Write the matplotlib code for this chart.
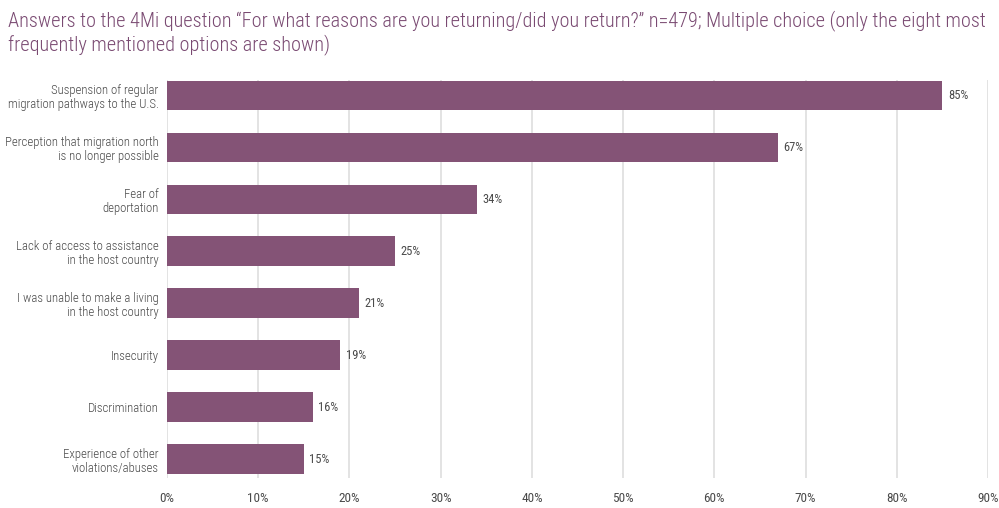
import matplotlib
matplotlib.use("Agg")
import matplotlib.pyplot as plt
from matplotlib.ticker import FuncFormatter

categories = [
    "Suspension of regular\nmigration pathways to the U.S.",
    "Perception that migration north\nis no longer possible",
    "Fear of\ndeportation",
    "Lack of access to assistance\nin the host country",
    "I was unable to make a living\nin the host country",
    "Insecurity",
    "Discrimination",
    "Experience of other\nviolations/abuses",
]
values = [85, 67, 34, 25, 21, 19, 16, 15]
xticks = [0, 10, 20, 30, 40, 50, 60, 70, 80, 90]
title = ("Answers to the 4Mi question \u201cFor what reasons are you returning/did you return?\u201d n=479; Multiple choice (only the eight most\n"
         "frequently mentioned options are shown)")

fam = ['Roboto Condensed', 'Archivo Narrow', 'DejaVu Sans']
plt.rcParams['font.family'] = fam

bar_color = "#845376"
text_color = "#4a4a4a"

fig = plt.figure(figsize=(9.99, 5.08), dpi=100)
ax = fig.add_axes([167/999, 1-478/508, (988-167)/999, (478-80)/508])

ypos = list(range(len(categories)))
ax.barh(ypos, values, height=0.56, color=bar_color, zorder=3)
for y, v in zip(ypos, values):
    ax.text(v + 0.6, y, f"{v}%", va="center", ha="left", fontsize=9, color=text_color)

ax.set_xlim(0, 90)
ax.set_ylim(7.365, -0.29)
ax.set_xticks(xticks)
ax.xaxis.set_major_formatter(FuncFormatter(lambda x, p: f"{int(x)}%"))
ax.set_yticks(ypos)
ax.set_yticklabels(categories, fontsize=9.2, color=text_color, linespacing=1.15,
                   fontweight='light')
ax.tick_params(axis='x', length=0, pad=10, labelsize=9.5, labelcolor=text_color)
ax.tick_params(axis='y', length=0, pad=6)
ax.grid(axis='x', color="#dedede", linewidth=1.2, zorder=0)
for s in ax.spines.values():
    s.set_visible(False)

fig.text(8/999, 1-10/508, title, ha="left", va="top", fontsize=14.6, color="#7a4a72",
         linespacing=1.2, fontweight='light')

fig.savefig("out.png", dpi=100)
